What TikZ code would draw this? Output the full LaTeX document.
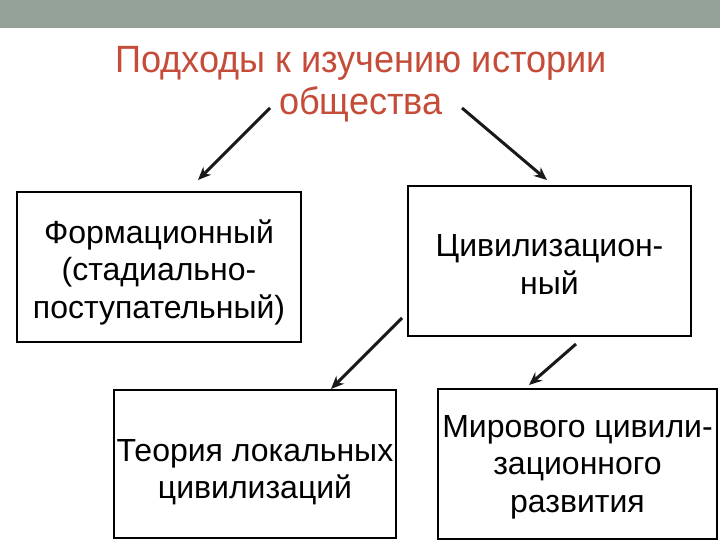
\documentclass[tikz,border=0pt]{standalone}
\usepackage{fontspec}
\setmainfont{Liberation Sans}
\newfontfamily\titlefont[FakeStretch=0.95]{Liberation Sans}
\usetikzlibrary{arrows.meta}
\definecolor{bandgrey}{RGB}{148,162,154}
\definecolor{titlered}{RGB}{196,76,56}
\tikzset{
  boxnode/.style={draw=black, line width=2pt, inner sep=0pt},
  boxtext/.style={inner sep=0pt, align=center, font=\fontsize{32}{37.5}\selectfont, text=black},
  conn/.style={line width=3pt, draw=black!90, -{Stealth[length=13pt,width=11pt]}},
  titletext/.style={text=titlered, align=center, font=\titlefont\fontsize{38}{42}\selectfont, inner sep=0pt}
}
\begin{document}
\begin{tikzpicture}[x=1pt,y=-1pt]
\useasboundingbox (0,0) rectangle (720,540);
\fill[white] (0,0) rectangle (720,540);
\fill[bandgrey] (0,0) rectangle (720,28);
\node[titletext] (title) at (361,84) {Подходы к изучению истории\\общества};
\node[boxnode, minimum width=284pt, minimum height=150pt] (b1) at (159,267) {};
\node[boxnode, minimum width=283pt, minimum height=150pt] (b2) at (549.5,261) {};
\node[boxnode, minimum width=282pt, minimum height=148pt] (b3) at (255,464) {};
\node[boxnode, minimum width=279pt, minimum height=150pt] (b4) at (577.5,464) {};
\node[boxtext] (t1) at ([yshift=-5pt]b1.center) {Формационный\\(стадиально-\\поступательный)};
\node[boxtext] (t2) at ([yshift=-3.5pt]b2.center) {Цивилизацион-\\ный};
\node[boxtext] (t3) at ([yshift=-8pt]b3.center) {Теория локальных\\цивилизаций};
\node[boxtext] (t4) at ([yshift=-3pt]b4.center) {Мирового цивили-\\зационного\\развития};
\coordinate (s1) at (270,108);
\coordinate (e1) at (198,180);
\coordinate (s2) at (462,108);
\coordinate (e2) at (547,180);
\coordinate (s3) at (402,318);
\coordinate (e3) at (331,389);
\coordinate (s4) at (576,344);
\coordinate (e4) at (529,385);
\draw[conn] (s1) -- (e1);
\draw[conn] (s2) -- (e2);
\draw[conn] (s3) -- (e3);
\draw[conn] (s4) -- (e4);
\end{tikzpicture}
\end{document}
